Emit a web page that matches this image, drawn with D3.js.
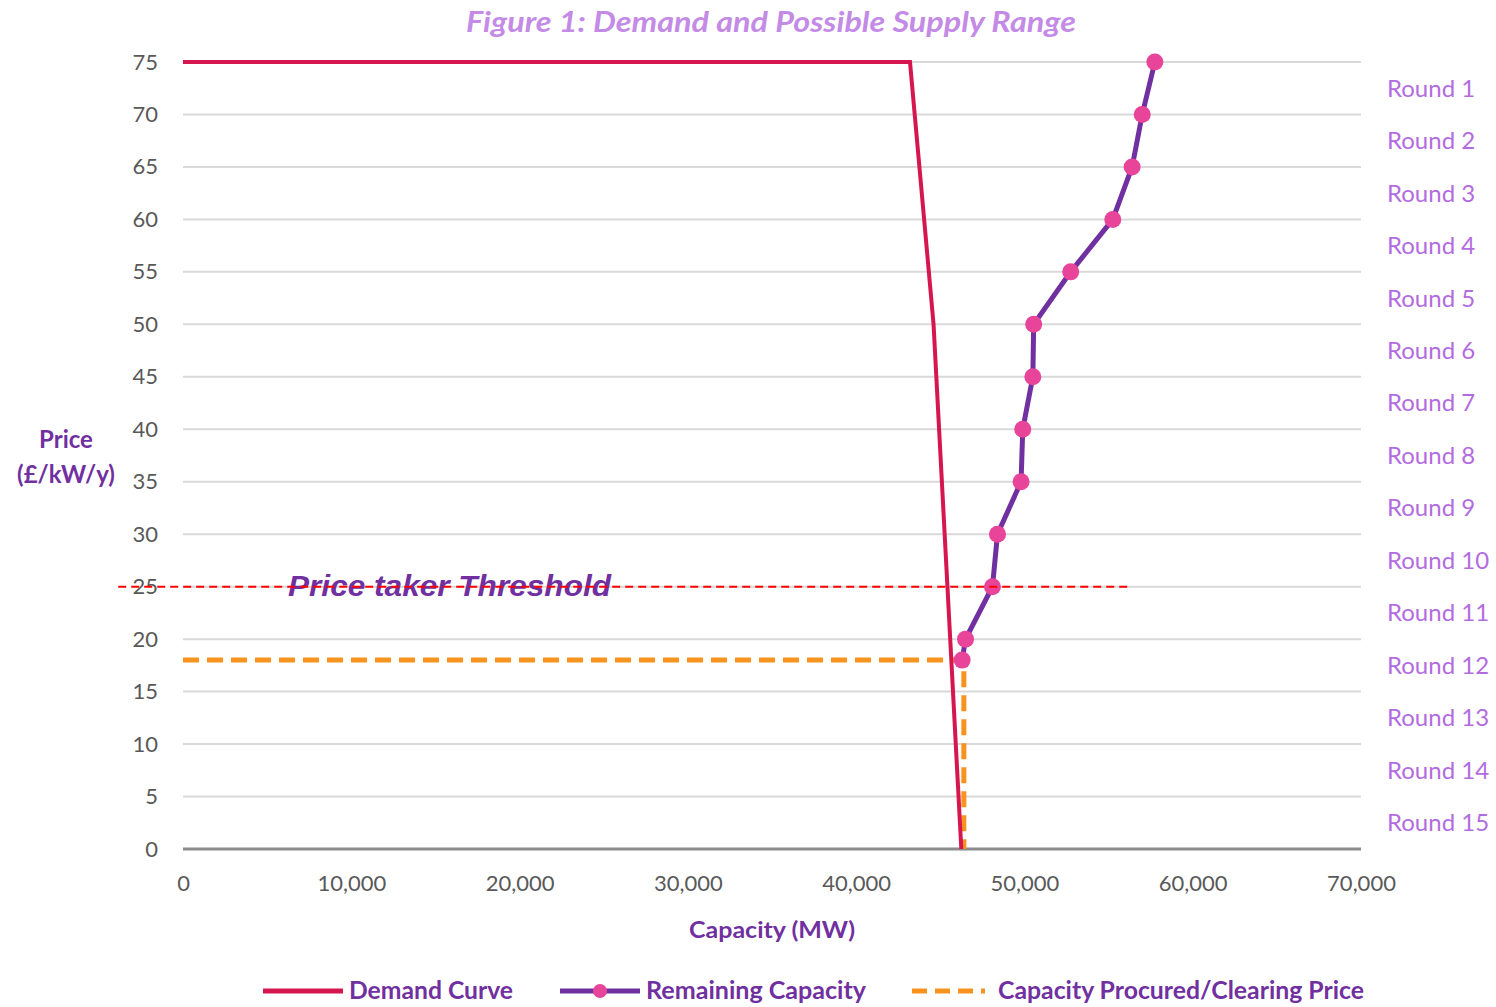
<!DOCTYPE html>
<html>
<head>
<meta charset="utf-8">
<script src="https://cdn.jsdelivr.net/npm/d3@7"></script>
<style>
  body { margin: 0; background: #fff; }
  text { font-family: Lato, "Open Sans", sans-serif; }
</style>
</head>
<body>
<svg id="chart"></svg>
<script>
const WIDTH = 1496;
const HEIGHT = 1007;

// data
const demandCurve = [
	{capacity: 0, price: 75},
	{capacity: 43200, price: 75},
	{capacity: 44600, price: 50},
	{capacity: 46250, price: 0}
];
const remainingCapacity = [
	{capacity: 57750, price: 75},
	{capacity: 57000, price: 70},
	{capacity: 56400, price: 65},
	{capacity: 55250, price: 60},
	{capacity: 52750, price: 55},
	{capacity: 50550, price: 50},
	{capacity: 50500, price: 45},
	{capacity: 49900, price: 40},
	{capacity: 49800, price: 35},
	{capacity: 48400, price: 30},
	{capacity: 48100, price: 25},
	{capacity: 46500, price: 20},
	{capacity: 46300, price: 18}
];
const clearing = [
	{capacity: 0, price: 18},
	{capacity: 46400, price: 18},
	{capacity: 46400, price: 0}
];
const thresholdPrice = 25;
const thresholdRange = [-3850, 56300];
const roundLabels = d3.range(1, 16).map(i => 'Round ' + i);
const roundPrices = d3.range(1, 16).map(i => 77.5 - 5 * i);
const xTicks = [0, 10000, 20000, 30000, 40000, 50000, 60000, 70000];
const yTicks = d3.range(0, 80, 5);

const PURPLE = '#7030a0';
const LILAC = '#b36ce0';

const svg = d3.select('#chart')
	.attr('width', WIDTH)
	.attr('height', HEIGHT);

const x = d3.scaleLinear().domain([0, 70000]).range([183, 1361]);
const y = d3.scaleLinear().domain([0, 75]).range([849, 62]);

// title
svg.append('text')
	.attr('x', 771)
	.attr('y', 32)
	.attr('text-anchor', 'middle')
	.attr('font-size', 29)
	.attr('font-weight', 'bold')
	.attr('font-style', 'italic')
	.attr('fill', '#c48be6')
	.attr('textLength', 610)
	.attr('lengthAdjust', 'spacingAndGlyphs')
	.text('Figure 1: Demand and Possible Supply Range');

// gridlines
svg.append('g')
	.selectAll('line')
	.data(yTicks.filter(d => d > 0))
	.enter()
	.append('line')
	.attr('x1', x(0))
	.attr('x2', x(70000))
	.attr('y1', d => y(d))
	.attr('y2', d => y(d))
	.attr('stroke', '#d9d9d9')
	.attr('stroke-width', 2);

svg.append('line')
	.attr('x1', x(0))
	.attr('x2', x(70000))
	.attr('y1', y(0))
	.attr('y2', y(0))
	.attr('stroke', '#8c8c8c')
	.attr('stroke-width', 3);

// tick labels
const yAxis = d3.axisLeft(y).tickValues(yTicks).tickSize(0).tickPadding(25);
svg.append('g')
	.attr('transform', `translate(${x(0)},0)`)
	.call(yAxis)
	.call(g => g.select('.domain').remove())
	.selectAll('text')
	.attr('font-size', 22)
	.attr('fill', '#595959')
	.style('font-family', 'Lato, sans-serif');

const xAxis = d3.axisBottom(x).tickValues(xTicks).tickSize(0).tickPadding(26)
	.tickFormat(d3.format(','));
svg.append('g')
	.attr('transform', `translate(0,${y(0)})`)
	.call(xAxis)
	.call(g => g.select('.domain').remove())
	.selectAll('text')
	.attr('font-size', 22)
	.attr('fill', '#595959')
	.style('font-family', 'Lato, sans-serif');

// axis titles
const priceTitle = svg.append('text')
	.attr('x', 66)
	.attr('y', 448)
	.attr('text-anchor', 'middle')
	.attr('font-size', 24)
	.attr('font-weight', 'bold')
	.attr('fill', PURPLE);
priceTitle.append('tspan').attr('x', 66).text('Price');
priceTitle.append('tspan').attr('x', 66).attr('dy', 35).text('(£/kW/y)');

svg.append('text')
	.attr('x', 772)
	.attr('y', 938)
	.attr('text-anchor', 'middle')
	.attr('font-size', 23)
	.attr('font-weight', 'bold')
	.attr('fill', PURPLE)
	.attr('textLength', 166)
	.attr('lengthAdjust', 'spacingAndGlyphs')
	.text('Capacity (MW)');

// round labels
svg.append('g')
	.selectAll('text')
	.data(roundLabels)
	.enter()
	.append('text')
	.attr('x', 1387)
	.attr('y', (d, i) => y(roundPrices[i]))
	.attr('dy', '0.35em')
	.attr('font-size', 24)
	.attr('fill', LILAC)
	.text(d => d);

const line = d3.line()
	.x(d => x(d.capacity))
	.y(d => y(d.price));

// clearing price
svg.append('path')
	.datum(clearing)
	.attr('d', line)
	.attr('fill', 'none')
	.attr('stroke', '#f7931e')
	.attr('stroke-width', 5)
	.attr('stroke-dasharray', '16,8');

// demand curve
svg.append('path')
	.datum(demandCurve)
	.attr('d', line)
	.attr('fill', 'none')
	.attr('stroke', '#d6164f')
	.attr('stroke-width', 4);

// remaining capacity
svg.append('path')
	.datum(remainingCapacity)
	.attr('d', line)
	.attr('fill', 'none')
	.attr('stroke', PURPLE)
	.attr('stroke-width', 5);

svg.append('g')
	.selectAll('circle')
	.data(remainingCapacity)
	.enter()
	.append('circle')
	.attr('cx', d => x(d.capacity))
	.attr('cy', d => y(d.price))
	.attr('r', 8.5)
	.attr('fill', '#e8449a');

// price taker threshold
svg.append('text')
	.attr('x', 288)
	.attr('y', y(thresholdPrice) + 9)
	.attr('font-size', 29)
	.attr('font-weight', 'bold')
	.attr('font-style', 'italic')
	.attr('fill', PURPLE)
	.attr('textLength', 323)
	.attr('lengthAdjust', 'spacingAndGlyphs')
	.style('font-family', '"Liberation Sans", Arial, sans-serif')
	.text('Price taker Threshold');

svg.append('line')
	.attr('x1', x(thresholdRange[0]))
	.attr('x2', x(thresholdRange[1]))
	.attr('y1', y(thresholdPrice))
	.attr('y2', y(thresholdPrice))
	.attr('stroke', '#ff0000')
	.attr('stroke-width', 2)
	.attr('stroke-dasharray', '8,5');

// legend
const legend = svg.append('g').attr('transform', 'translate(0,991)');

const legendText = (xPos, width, label) => legend.append('text')
	.attr('x', xPos).attr('dy', '0.35em')
	.attr('font-size', 24).attr('font-weight', 'bold').attr('fill', PURPLE)
	.attr('textLength', width)
	.attr('lengthAdjust', 'spacingAndGlyphs')
	.text(label);

legend.append('line')
	.attr('x1', 263).attr('x2', 343)
	.attr('stroke', '#d6164f').attr('stroke-width', 5);
legendText(349, 164, 'Demand Curve');

legend.append('line')
	.attr('x1', 560).attr('x2', 640)
	.attr('stroke', PURPLE).attr('stroke-width', 5);
legend.append('circle')
	.attr('cx', 600).attr('r', 7).attr('fill', '#e8449a');
legendText(646, 220, 'Remaining Capacity');

legend.append('line')
	.attr('x1', 912).attr('x2', 985)
	.attr('stroke', '#f7931e').attr('stroke-width', 5)
	.attr('stroke-dasharray', '15,8');
legendText(998, 366, 'Capacity Procured/Clearing Price');
</script>
</body>
</html>
